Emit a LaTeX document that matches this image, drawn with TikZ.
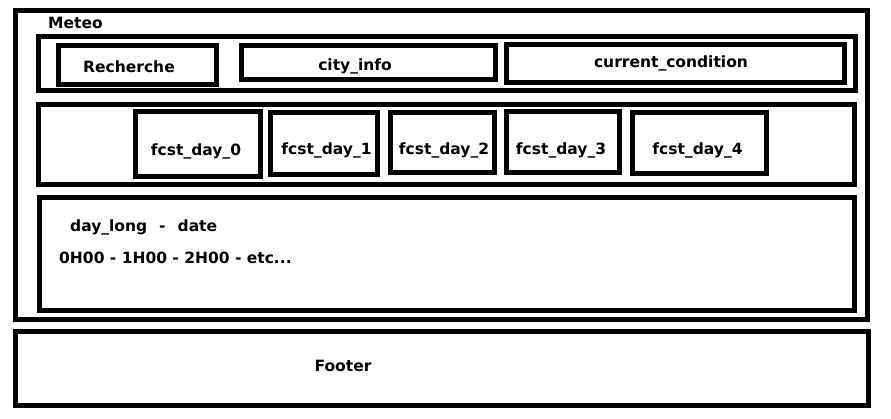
\documentclass[tikz,border=0pt]{standalone}
\usepackage{fontspec}
\setmainfont{DejaVu Sans}
\usepackage{tikz}

\begin{document}
\begin{tikzpicture}[x=1pt,y=-1pt,
    frame/.style={draw=black,line width=5pt},
    lbl/.style={font=\bfseries\fontsize{15.5}{18}\selectfont,inner sep=0pt}]
  \useasboundingbox (0,0) rectangle (891,419);

  % page
  \draw[frame] (15,10.5) rectangle (867,320);
  \node[lbl,anchor=west] (meteo) at (48,23) {Meteo};

  % header row
  \draw[frame] (38,37) rectangle (855,91);
  \draw[frame] (58,45.5) rectangle (216.5,85);
  \draw[frame] (241.5,45.5) rectangle (495.5,80);
  \draw[frame] (506.5,45) rectangle (844.5,82.5);
  \node[lbl] (recherche) at (129,67) {Recherche};
  \node[lbl] (cityinfo) at (355,66.5) {city\_info};
  \node[lbl] (current) at (671,63) {current\_condition};

  % forecast row
  \draw[frame] (38,104.5) rectangle (854.5,185);
  \draw[frame] (135.5,111.5) rectangle (260,176.5);
  \draw[frame] (270.5,112.5) rectangle (377.5,174.5);
  \draw[frame] (390.5,112.5) rectangle (494.5,172.5);
  \draw[frame] (506.5,112) rectangle (619,173);
  \draw[frame] (632,113) rectangle (766.5,174);
  \node[lbl] (fcst0) at (196,151) {fcst\_day\_0};
  \node[lbl] (fcst1) at (326.5,150) {fcst\_day\_1};
  \node[lbl] (fcst2) at (444,150) {fcst\_day\_2};
  \node[lbl] (fcst3) at (561,150) {fcst\_day\_3};
  \node[lbl] (fcst4) at (697.5,150) {fcst\_day\_4};

  % hourly detail
  \draw[frame] (39.5,197.5) rectangle (854,310.5);
  \node[lbl,anchor=west] (daylong) at (70,227) {day\_long\hspace{12pt}-\hspace{12pt}date};
  \node[lbl,anchor=west] (hours) at (59,258) {0H00 - 1H00 - 2H00 - etc...};

  % footer
  \draw[frame] (15.5,331.5) rectangle (868,405.5);
  \node[lbl] (footer) at (343,366) {Footer};
\end{tikzpicture}
\end{document}
